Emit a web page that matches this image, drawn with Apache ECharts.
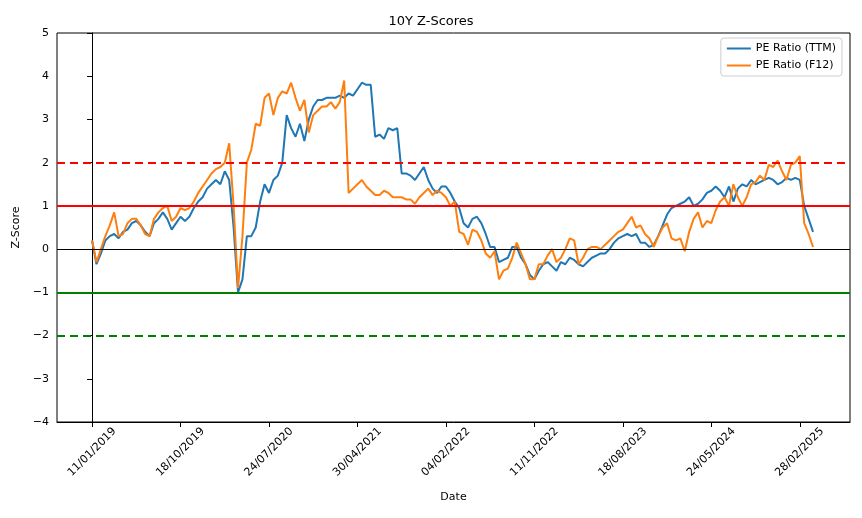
<!DOCTYPE html><html><head><meta charset="utf-8">
<script src="https://cdn.jsdelivr.net/npm/echarts@6/dist/echarts.min.js"></script>
<style>body{margin:0}#c{width:862px;height:518px}</style></head><body><div id="c"></div>
<script>
const startDate = '2019-01-11';
const stepDays = 14;
const tickLabels = ['11/01/2019','18/10/2019','24/07/2020','30/04/2021','04/02/2022','11/11/2022','18/08/2023','24/05/2024','28/02/2025'];
const ttm = [0.2,-0.35,-0.1,0.2,0.3,0.35,0.25,0.4,0.45,0.6,0.65,0.55,0.4,0.3,0.6,0.7,0.85,0.7,0.45,0.6,
0.75,0.65,0.75,0.95,1.1,1.2,1.4,1.5,1.6,1.5,1.8,1.6,0.5,-1.0,-0.7,0.3,0.3,0.5,1.1,1.5,
1.3,1.6,1.7,2.0,3.1,2.8,2.6,2.9,2.5,3.0,3.3,3.45,3.45,3.5,3.5,3.5,3.55,3.5,3.6,3.55,
3.7,3.85,3.8,3.8,2.6,2.65,2.55,2.8,2.75,2.8,1.75,1.75,1.7,1.6,1.75,1.9,1.6,1.4,1.3,1.45,
1.45,1.3,1.1,0.95,0.6,0.5,0.7,0.75,0.6,0.35,0.05,0.05,-0.3,-0.25,-0.2,0.05,0.05,-0.2,-0.35,-0.6,
-0.7,-0.5,-0.35,-0.3,-0.4,-0.5,-0.3,-0.35,-0.2,-0.25,-0.35,-0.4,-0.3,-0.2,-0.15,-0.1,-0.1,0.0,0.15,0.25,
0.3,0.35,0.3,0.35,0.15,0.15,0.05,0.1,0.3,0.55,0.8,0.95,1.0,1.05,1.1,1.2,1.0,1.05,1.15,1.3,
1.35,1.45,1.35,1.2,1.45,1.1,1.4,1.5,1.45,1.6,1.5,1.55,1.6,1.65,1.6,1.5,1.55,1.65,1.6,1.65,
1.6,1.0,0.7,0.4];
const f12 = [0.2,-0.3,0.0,0.3,0.55,0.85,0.3,0.35,0.6,0.7,0.7,0.55,0.35,0.3,0.7,0.85,0.95,1.0,0.65,0.75,
0.95,0.9,0.95,1.1,1.3,1.45,1.6,1.75,1.85,1.9,2.0,2.45,1.0,-0.9,0.3,2.0,2.3,2.9,2.85,3.5,
3.6,3.1,3.5,3.65,3.6,3.85,3.5,3.2,3.45,2.7,3.1,3.2,3.3,3.3,3.4,3.25,3.4,3.9,1.3,1.4,
1.5,1.6,1.45,1.35,1.25,1.25,1.35,1.3,1.2,1.2,1.2,1.15,1.15,1.05,1.2,1.3,1.4,1.25,1.35,1.3,
1.2,1.0,1.1,0.4,0.35,0.1,0.45,0.4,0.2,-0.1,-0.2,-0.05,-0.7,-0.5,-0.45,-0.2,0.15,-0.1,-0.35,-0.7,
-0.7,-0.35,-0.35,-0.15,0.0,-0.3,-0.2,0.0,0.25,0.2,-0.35,-0.2,0.0,0.05,0.05,0.0,0.1,0.2,0.3,0.4,
0.45,0.6,0.75,0.5,0.55,0.35,0.25,0.05,0.3,0.5,0.6,0.25,0.2,0.25,-0.05,0.4,0.7,0.85,0.5,0.65,
0.6,0.9,1.1,1.2,1.0,1.5,1.2,1.0,1.2,1.5,1.55,1.7,1.6,1.95,1.9,2.05,1.8,1.6,1.95,2.0,
2.15,0.6,0.35,0.05];
const toPts = a => a.map((v, i) => [i * stepDays, v]);
const tickVals = tickLabels.map((_, i) => i * 280);
const chart = echarts.init(document.getElementById('c'));
const F = 'DejaVu Sans';
chart.setOption({
  animation: false,
  textStyle: {fontFamily: F},
  title: {text: '10Y Z-Scores', left: 'center', top: 10, textStyle: {fontFamily: F, fontSize: 13, fontWeight: 'normal', color: '#000'}},
  legend: {top: 38, right: 20, orient: 'vertical', itemWidth: 24, itemHeight: 2, itemGap: 6,
    borderColor: '#ccc', borderWidth: 1, borderRadius: 3, padding: [5, 6],
    textStyle: {fontFamily: F, fontSize: 11, color: '#000'},
    data: [{name: 'PE Ratio (TTM)', icon: 'rect'}, {name: 'PE Ratio (F12)', icon: 'rect'}]},
  grid: {left: 57, right: 12, top: 33, bottom: 96, show: true, borderColor: '#000', borderWidth: 1},
  xAxis: {type: 'value', min: -111, max: 2399, name: 'Date', nameLocation: 'middle', nameGap: 70,
    nameTextStyle: {fontFamily: F, fontSize: 11, color: '#000'},
    axisLine: {onZero: false, lineStyle: {color: '#000'}}, splitLine: {show: false},
    axisTick: {customValues: tickVals, lineStyle: {color: '#000'}},
    axisLabel: {customValues: tickVals, rotate: 45, align: 'center', verticalAlign: 'middle', margin: 30,
      color: '#000', fontSize: 11, fontFamily: F,
      formatter: v => tickLabels[Math.round(v / 280)] || ''}},
  yAxis: {type: 'value', min: -4, max: 5, interval: 1, name: 'Z-Score', nameLocation: 'middle', nameGap: 32,
    nameTextStyle: {fontFamily: F, fontSize: 11, color: '#000'},
    axisLine: {show: true, lineStyle: {color: '#000'}}, axisTick: {show: true, lineStyle: {color: '#000'}},
    splitLine: {show: false},
    axisLabel: {color: '#000', fontSize: 11, fontFamily: F, formatter: v => String(v).replace('-', '\u2212')}},
  series: [
    {name: 'PE Ratio (TTM)', type: 'line', data: toPts(ttm), showSymbol: false, color: '#1f77b4', lineStyle: {width: 2},
      markLine: {silent: true, symbol: 'none', label: {show: false}, data: [
        {yAxis: 2, lineStyle: {color: 'red', type: [8, 5], width: 2}},
        {yAxis: 1, lineStyle: {color: 'red', type: 'solid', width: 2}},
        {yAxis: 0, lineStyle: {color: '#000', type: 'solid', width: 1}},
        {yAxis: -1, lineStyle: {color: 'green', type: 'solid', width: 2}},
        {yAxis: -2, lineStyle: {color: 'green', type: [8, 5], width: 2}}]}},
    {name: 'PE Ratio (F12)', type: 'line', data: toPts(f12), showSymbol: false, color: '#ff7f0e', lineStyle: {width: 2}}
  ]
});
</script></body></html>
